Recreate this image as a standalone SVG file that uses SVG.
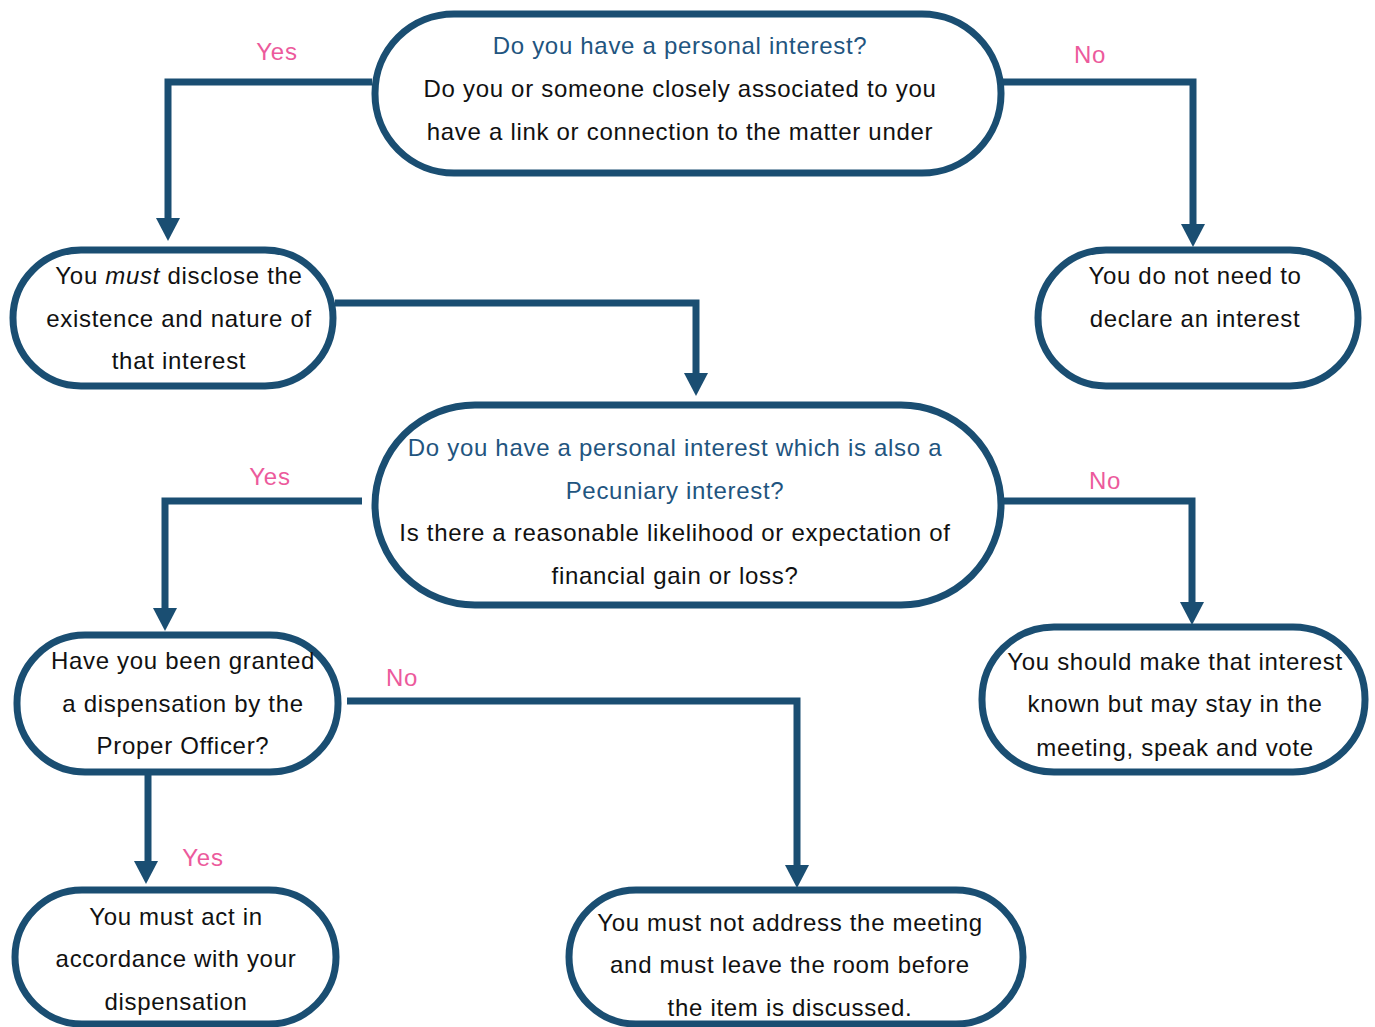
<svg xmlns="http://www.w3.org/2000/svg" width="1375" height="1027" viewBox="0 0 1375 1027">
<defs>
<style>
.box{fill:#fff;stroke:#1a4e72;stroke-width:7}
.con{fill:none;stroke:#1a4e72;stroke-width:7}
.head{fill:#1a4e72}
text{font-family:"Liberation Sans",Arial,sans-serif;font-size:24px;letter-spacing:0.7px;text-anchor:middle}
.q{fill:#1f5580}
.a{fill:#111}
.lbl{fill:#ec5a9c;font-size:24px}
</style>
</defs>
<rect width="1375" height="1027" fill="#fff"/>
<g id="connectors">
<path class="con" d="M372,82 H168 V220"/>
<polygon class="head" points="156,218 180,218 168,241"/>
<path class="con" d="M1003,82 H1193 V226"/>
<polygon class="head" points="1181,224 1205,224 1193,247"/>
<path class="con" d="M335,303 H696 V375"/>
<polygon class="head" points="684,373 708,373 696,396"/>
<path class="con" d="M362,501 H165 V610"/>
<polygon class="head" points="153,608 177,608 165,631"/>
<path class="con" d="M1003,501 H1192 V604"/>
<polygon class="head" points="1180,602 1204,602 1192,625"/>
<path class="con" d="M347,701 H797 V867"/>
<polygon class="head" points="785,865 809,865 797,888"/>
<path class="con" d="M148,774 V863"/>
<polygon class="head" points="134,861 158,861 146,884"/>
<text class="lbl" x="277" y="60">Yes</text>
<text class="lbl" x="1090" y="63">No</text>
<text class="lbl" x="270" y="485">Yes</text>
<text class="lbl" x="1105" y="489">No</text>
<text class="lbl" x="402" y="686">No</text>
<text class="lbl" x="203" y="866">Yes</text>
</g>
<g id="n1">
<rect class="box" x="375" y="14" width="626" height="159" rx="79"/>
<text class="q" x="680" y="54">Do you have a personal interest?</text>
<text class="a" x="680" y="97">Do you or someone closely associated to you</text>
<text class="a" x="680" y="140">have a link or connection to the matter under</text>
</g>
<g id="n2">
<rect class="box" x="13" y="250" width="320" height="136" rx="68"/>
<text class="a" x="179" y="284">You <tspan font-style="italic">must</tspan> disclose the</text>
<text class="a" x="179" y="327">existence and nature of</text>
<text class="a" x="179" y="369">that interest</text>
</g>
<g id="n3">
<rect class="box" x="1038" y="250" width="320" height="136" rx="68"/>
<text class="a" x="1195" y="284">You do not need to</text>
<text class="a" x="1195" y="327">declare an interest</text>
</g>
<g id="n4">
<rect class="box" x="375" y="405" width="626" height="200" rx="100"/>
<text class="q" x="675" y="456">Do you have a personal interest which is also a</text>
<text class="q" x="675" y="499">Pecuniary interest?</text>
<text class="a" x="675" y="541">Is there a reasonable likelihood or expectation of</text>
<text class="a" x="675" y="584">financial gain or loss?</text>
</g>
<g id="n5">
<rect class="box" x="17" y="635" width="321" height="137" rx="68"/>
<text class="a" x="183" y="669">Have you been granted</text>
<text class="a" x="183" y="712">a dispensation by the</text>
<text class="a" x="183" y="754">Proper Officer?</text>
</g>
<g id="n6">
<rect class="box" x="982" y="627" width="383" height="145" rx="72"/>
<text class="a" x="1175" y="670">You should make that interest</text>
<text class="a" x="1175" y="712">known but may stay in the</text>
<text class="a" x="1175" y="756">meeting, speak and vote</text>
</g>
<g id="n7">
<rect class="box" x="15" y="890" width="321" height="134" rx="67"/>
<text class="a" x="176" y="925">You must act in</text>
<text class="a" x="176" y="967">accordance with your</text>
<text class="a" x="176" y="1010">dispensation</text>
</g>
<g id="n8">
<rect class="box" x="569" y="890" width="454" height="134" rx="67"/>
<text class="a" x="790" y="931">You must not address the meeting</text>
<text class="a" x="790" y="973">and must leave the room before</text>
<text class="a" x="790" y="1016">the item is discussed.</text>
</g>
</svg>
